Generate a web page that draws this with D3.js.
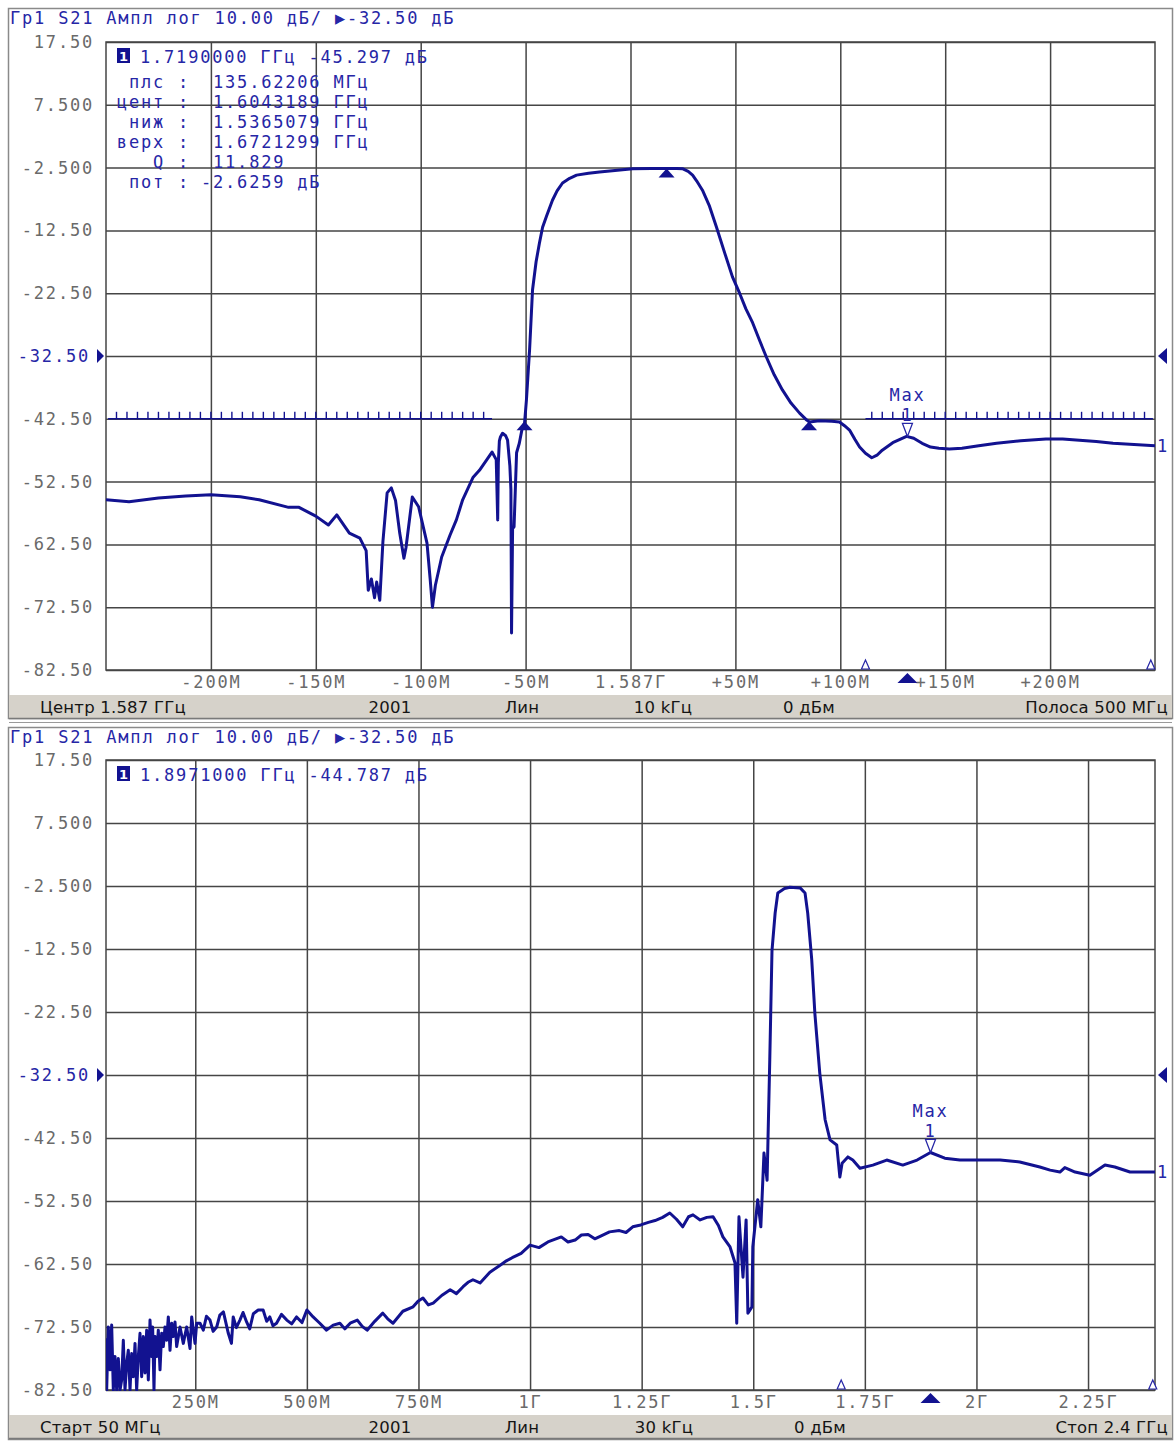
<!DOCTYPE html>
<html>
<head>
<meta charset="utf-8">
<script src="https://cdn.jsdelivr.net/npm/d3@7"></script>
<style>
body { margin: 0; background: #fff; }
svg { display: block; }
.mono { font-family: "DejaVu Sans Mono", monospace; letter-spacing: 1.8px; }
.stat { font-family: "DejaVu Sans", sans-serif; font-size: 16.5px; fill: #151515; letter-spacing: 0.2px; }
</style>
</head>
<body>
<svg width="1176" height="1441"></svg>
<script>
// ---- top trace: offset from 1.587 GHz (MHz) / S21 dB
const topOff = [-250,-239,-225,-212,-200,-186,-177,-163,-158,-150,-144,-140,-134,-129,-126,-125,-123.5,-122,-121,-119.5,-118,-116,-114,-112,-110,-108,-107,-104,-101,-97,-95.5,-94.4,-93,-90,-86,-83,-80,-75,-72,-66,-64,-63.3,-63,-62.5,-62,-61,-59.5,-58.6,-57.5,-57,-56.7,-56.2,-55.5,-54.3,-53,-51.5,-50.5,-49.6,-48.1,-46.7,-45,-43.4,-41.9,-40,-37.2,-35,-32.4,-29,-25.7,-20,-14.8,-5,1,10,17,22,25,27.5,29.6,31.5,34.3,37.5,41,45,48.6,52,55,58.2,61.5,64.8,68.5,72.4,76.5,80.6,84,85.3,90,96,99.6,102,104.4,107,109.2,112,115,117.5,120,125,131.6,135,139,143,147,152,158,166,174.5,186,198,206,214,222,230,240,250];
const topDb = [-55.4,-55.7,-55.1,-54.8,-54.6,-54.9,-55.4,-56.6,-56.6,-58.0,-59.4,-57.8,-60.7,-61.5,-63.5,-69.8,-68.0,-71.0,-68.5,-71.4,-62,-54.3,-53.5,-55.5,-60.7,-64.7,-63.0,-54.95,-56.5,-62.3,-68,-72.5,-69,-64.5,-61,-58.6,-55.4,-51.8,-50.7,-47.8,-49.0,-58.6,-49.5,-46,-45.4,-44.8,-45.2,-45.9,-50,-53.8,-76.6,-60,-59.7,-47.9,-46.4,-43.8,-43.2,-39.5,-31.5,-22.0,-17.5,-14.5,-12.0,-10.2,-7.7,-6.2,-4.95,-4.2,-3.7,-3.4,-3.2,-2.9,-2.7,-2.65,-2.63,-2.65,-2.7,-3.1,-3.7,-4.6,-6.1,-8.5,-12.0,-16.2,-19.9,-22.5,-25.0,-27.2,-30.0,-32.7,-35.5,-37.9,-40.0,-41.6,-42.7,-43.0,-42.8,-42.9,-43.0,-43.6,-44.3,-45.8,-47.0,-48.0,-48.7,-48.3,-47.5,-46.3,-45.3,-45.6,-46.4,-47.0,-47.2,-47.3,-47.2,-46.8,-46.4,-46.0,-45.7,-45.7,-45.9,-46.1,-46.4,-46.6,-46.8];

// ---- bottom trace: frequency (MHz) / S21 dB
const botFreq = [50,51.5,55.2,59,62.7,66.4,70.2,73.9,77.6,81.4,85.1,88.8,92.6,96.3,100,103.8,107.5,111.2,115,118.7,122.4,126.2,129.9,133.6,137.4,141.1,144.8,148.6,152.3,154.5,157.5,159.8,163.5,167.2,171,174.7,178.4,182.2,185.9,189.6,193.4,197.1,200.8,204.6,208.3,215.8,223.2,230.7,238.2,242,249.4,253.2,260.6,268,275,283,290,298,305,313,324,331,335,342,350,357,365,372,380,391,402,410,417,424,432,443,455,466,477,489,500,514,529,544,559,574,585,597,613,624,635,652,670,681,693,715,738,749,760,772,783,802,821,835,850,861,872,888,910,933,947,960,980,1000,1020,1040,1055,1070,1085,1101,1115,1130,1145,1157,1178,1200,1215,1230,1248,1265,1280,1297,1313,1328,1342,1355,1365,1381,1396,1410,1422,1432,1448,1459,1463,1468,1477,1484,1488,1497,1499,1510,1517,1524,1531,1533,1537,1542,1549,1555,1570,1582,1605,1616,1622,1631,1638,1649,1661,1672,1687,1694,1699,1712,1723,1739,1768,1799,1835,1867,1897,1929,1963,2053,2097,2142,2165,2187,2198,2221,2254,2288,2310,2344,2400];
const botDb = [-74.3,-82.5,-72.5,-79.3,-72.2,-82.5,-77.2,-82.5,-77.5,-82.5,-80.9,-74.6,-82.5,-78.3,-76.2,-82.5,-76.7,-80.4,-75.1,-82.5,-77.2,-73.5,-80.4,-74.0,-79.8,-73.0,-80.9,-71.4,-77.2,-72.5,-82.5,-74.0,-77.2,-73.0,-79.3,-73.5,-75.6,-72.5,-74.6,-70.9,-76.2,-71.9,-74.0,-71.7,-75.6,-72.5,-75.1,-72.5,-75.9,-70.9,-75.1,-71.9,-71.9,-73.0,-70.8,-71.4,-73.2,-72.5,-70.6,-70.1,-73.5,-75.1,-70.9,-72.6,-71.4,-70.2,-71.7,-72.8,-70.4,-69.8,-69.8,-71.6,-70.9,-72.3,-71.9,-70.5,-71.4,-72.0,-70.9,-71.8,-69.8,-70.9,-71.9,-73.0,-72.2,-71.9,-72.8,-71.9,-71.4,-72.4,-73.0,-71.6,-70.3,-71.2,-71.9,-70.0,-69.3,-68.4,-67.9,-69.0,-68.7,-67.5,-66.6,-67.2,-66.1,-65.4,-65.0,-65.5,-63.8,-62.7,-62.0,-61.5,-60.8,-59.5,-59.9,-59.0,-58.6,-58.2,-59.0,-58.7,-57.9,-57.8,-58.5,-58.1,-57.4,-57.2,-57.5,-56.6,-56.3,-55.9,-55.6,-55.1,-54.4,-55.4,-56.6,-55.0,-54.7,-55.5,-55.1,-55.0,-56.4,-58.2,-59.8,-62.3,-71.9,-55.0,-64.6,-55.5,-70.3,-69.3,-59.8,-52.3,-56.6,-44.9,-49.2,-42.8,-30.1,-12.7,-6.8,-3.6,-2.9,-2.7,-2.8,-3.6,-6.8,-14.2,-22.7,-32.2,-39.6,-42.8,-43.6,-48.7,-46.5,-45.5,-46.0,-47.3,-46.8,-46.0,-46.8,-46.0,-44.8,-45.7,-46.0,-46.0,-46.3,-47.1,-47.6,-47.9,-47.2,-47.9,-48.4,-46.8,-47.1,-47.9,-47.9];

// ---- axes
const yTicks = [17.5,7.5,-2.5,-12.5,-22.5,-32.5,-42.5,-52.5,-62.5,-72.5,-82.5];
const yLabels = ["17.50","7.500","-2.500","-12.50","-22.50","-32.50","-42.50","-52.50","-62.50","-72.50","-82.50"];
const topXTicks = [-200,-150,-100,-50,0,50,100,150,200];
const topXLabels = ["-200M","-150M","-100M","-50M","1.587Г","+50M","+100M","+150M","+200M"];
const botXTicks = [250,500,750,1000,1250,1500,1750,2000,2250];
const botXLabels = ["250M","500M","750M","1Г","1.25Г","1.5Г","1.75Г","2Г","2.25Г"];

// ---- texts
const title = "Гр1 S21 Ампл лог 10.00 дБ/ ▶-32.50 дБ";
const topMarkerHead = "1.7190000 ГГц -45.297 дБ";
const bwNames = ["плс","цент","ниж","верх","Q","пот"];
const bwValues = [" 135.62206 МГц"," 1.6043189 ГГц"," 1.5365079 ГГц"," 1.6721299 ГГц"," 11.829","-2.6259 дБ"];
const botMarkerHead = "1.8971000 ГГц -44.787 дБ";
const topStatus = ["Центр 1.587 ГГц","2001","Лин","10 kГц","0 дБм","Полоса 500 МГц"];
const botStatus = ["Старт 50 МГц","2001","Лин","30 kГц","0 дБм","Стоп 2.4 ГГц"];

// markers
const topMax = {f: 132, db: -45.297};
const topBw = [{f: -50.5, db: -42.9}, {f: 17.2, db: -2.63}, {f: 85.1, db: -42.9}];
const topRange = [112, 248];
const topLimitSegs = [[-249, -66], [112, 249]];
const botMax = {f: 1897.1, db: -44.787};
const botRange = [1697, 2395];

const svg = d3.select("svg");
const L = 106, R = 1155;
const navy = "#121290", txtBlue = "#2626a6", gridC = "#454545";

function panel(o) {
  const g = svg.append("g");
  const x = d3.scaleLinear().domain(o.xDom).range([L, R]);
  const y = d3.scaleLinear().domain([-82.5, 17.5]).range([o.bot, o.top]);

  // frame + status bar
  g.append("rect").attr("x", 8.5).attr("y", o.frameY + 0.5).attr("width", 1164).attr("height", o.frameH)
    .attr("fill", "#fff").attr("stroke", "#8a8a8a").attr("stroke-width", 1.5);
  g.append("rect").attr("x", 9).attr("y", o.bot + 25).attr("width", 1163).attr("height", 23)
    .attr("fill", "#d6d2ca");
  g.append("line").attr("x1", 9).attr("x2", 1172).attr("y1", o.bot + 48.5).attr("y2", o.bot + 48.5)
    .attr("stroke", "#7a7a7a").attr("stroke-width", 1.5);

  // grid via axes
  const gx = g.append("g").attr("transform", `translate(0,${o.bot})`)
    .call(d3.axisBottom(x).tickValues(o.xTicks).tickFormat((d, i) => o.xLabels[i])
      .tickSize(-(o.bot - o.top)).tickPadding(6));
  const gy = g.append("g").attr("transform", `translate(${L},0)`)
    .call(d3.axisLeft(y).tickValues(yTicks).tickFormat((d, i) => yLabels[i])
      .tickSize(-(R - L)).tickPadding(12));
  [gx, gy].forEach(a => {
    a.select(".domain").remove();
    a.selectAll("line").attr("stroke", gridC).attr("stroke-width", 1.5);
    a.selectAll("text").attr("class", "mono").attr("font-size", 17).attr("fill", "#6a6a6a");
  });
  gy.selectAll("text").filter(d => d === -32.5).attr("fill", txtBlue).attr("dx", -4);
  g.append("rect").attr("x", L).attr("y", o.top).attr("width", R - L).attr("height", o.bot - o.top)
    .attr("fill", "none").attr("stroke", gridC).attr("stroke-width", 1.5);

  // reference arrows at -32.50
  const yr = y(-32.5);
  g.append("path").attr("d", `M${L - 9},${yr - 7}L${L - 2},${yr}L${L - 9},${yr + 7}Z`).attr("fill", navy);
  g.append("path").attr("d", `M${R + 12},${yr - 8}L${R + 3},${yr}L${R + 12},${yr + 8}Z`).attr("fill", navy);

  // title
  g.append("text").attr("class", "mono").attr("x", 10).attr("y", o.frameY + 16).attr("font-size", 17)
    .attr("fill", txtBlue).text(title);

  // limit line with ticks
  (o.limitSegs || []).forEach(s => {
    const yl = y(-42.5);
    g.append("line").attr("x1", x(s[0])).attr("x2", x(s[1])).attr("y1", yl).attr("y2", yl)
      .attr("stroke", navy).attr("stroke-width", 1.6);
    g.selectAll(null).data(d3.range(Math.ceil(s[0] / 5) * 5, s[1] + 0.1, 5)).enter().append("line")
      .attr("x1", d => x(d)).attr("x2", d => x(d)).attr("y1", yl - 7).attr("y2", yl)
      .attr("stroke", navy).attr("stroke-width", 1.4);
  });

  // trace
  const clipId = "clip" + o.top;
  g.append("clipPath").attr("id", clipId).append("rect")
    .attr("x", L).attr("y", o.top).attr("width", R - L).attr("height", o.bot - o.top + 1);
  g.append("path").datum(o.fx.map((f, i) => [f, o.db[i]]))
    .attr("clip-path", `url(#${clipId})`)
    .attr("d", d3.line().x(d => x(d[0])).y(d => y(d[1])))
    .attr("fill", "none").attr("stroke", navy).attr("stroke-width", 3).attr("stroke-linejoin", "round");

  // trace end label
  g.append("text").attr("class", "mono").attr("x", R + 2).attr("y", y(o.db[o.db.length - 1]) + 6)
    .attr("font-size", 17).attr("fill", txtBlue).text("1");

  // marker readout
  g.append("rect").attr("x", 117).attr("y", o.top + 6).attr("width", 13).attr("height", 15).attr("fill", navy);
  g.append("text").attr("x", 123.5).attr("y", o.top + 19).attr("text-anchor", "middle")
    .attr("font-family", "DejaVu Sans").attr("font-weight", "bold").attr("font-size", 13).attr("fill", "#fff").text("1");
  g.append("text").attr("class", "mono").attr("x", 140).attr("y", o.top + 21).attr("font-size", 17)
    .attr("fill", txtBlue).text(o.head);
  (o.bwNames || []).forEach((n, i) => {
    const yy = o.top + 46 + i * 20;
    g.append("text").attr("class", "mono").attr("x", 165).attr("y", yy).attr("text-anchor", "end")
      .attr("font-size", 17).attr("fill", txtBlue).text(n);
    g.append("text").attr("class", "mono").attr("x", 178).attr("y", yy)
      .attr("font-size", 17).attr("fill", txtBlue).text(":");
    g.append("text").attr("class", "mono").attr("x", 201).attr("y", yy)
      .attr("font-size", 17).attr("fill", txtBlue).style("white-space", "pre").text(o.bwValues[i]);
  });

  // max marker
  const mx = x(o.max.f), my = y(o.max.db);
  g.append("path").attr("d", `M${mx - 5},${my - 13}L${mx + 5},${my - 13}L${mx},${my}Z`)
    .attr("fill", "#fff").attr("stroke", txtBlue).attr("stroke-width", 1.3);
  g.append("text").attr("class", "mono").attr("x", mx).attr("y", my - 15).attr("text-anchor", "middle")
    .attr("font-size", 17).attr("fill", txtBlue).text("1");
  g.append("text").attr("class", "mono").attr("x", mx).attr("y", my - 35).attr("text-anchor", "middle")
    .attr("font-size", 17).attr("fill", txtBlue).text("Max");

  // bandwidth markers
  (o.bw || []).forEach(m => {
    const bx = x(m.f), by = y(m.db);
    g.append("path").attr("d", `M${bx - 8},${by + 9}L${bx + 8},${by + 9}L${bx},${by}Z`).attr("fill", navy);
  });

  // search range + active marker on axis
  o.range.forEach(f => {
    const rx = x(f);
    g.append("path").attr("d", `M${rx - 4},${o.bot - 1}L${rx + 4},${o.bot - 1}L${rx},${o.bot - 10}Z`)
      .attr("fill", "#fff").attr("stroke", txtBlue).attr("stroke-width", 1.2);
  });
  g.append("path").attr("d", `M${mx - 10},${o.bot + 13}L${mx + 10},${o.bot + 13}L${mx},${o.bot + 3}Z`).attr("fill", navy);

  // status bar text
  const sy = o.bot + 43;
  const sx = [[40, "start"], [390, "middle"], [522, "middle"], [o.s3, "middle"], [o.s4, "middle"], [1168, "end"]];
  o.status.forEach((t, i) => {
    g.append("text").attr("class", "stat").attr("x", sx[i][0]).attr("y", sy)
      .attr("text-anchor", sx[i][1]).text(t);
  });
}

panel({
  frameY: 8, frameH: 710, top: 42, bot: 670,
  xDom: [-250, 250], xTicks: topXTicks, xLabels: topXLabels,
  fx: topOff, db: topDb, head: topMarkerHead,
  bwNames: bwNames, bwValues: bwValues, bw: topBw,
  max: topMax, range: topRange, limitSegs: topLimitSegs,
  status: topStatus, s3: 663, s4: 809
});

svg.append("line").attr("x1", 9).attr("x2", 1172).attr("y1", 722.5).attr("y2", 722.5)
  .attr("stroke", "#9a9a9a").attr("stroke-width", 1);

panel({
  frameY: 727, frameH: 712, top: 760, bot: 1390,
  xDom: [50, 2400], xTicks: botXTicks, xLabels: botXLabels,
  fx: botFreq, db: botDb, head: botMarkerHead,
  max: botMax, range: botRange,
  status: botStatus, s3: 664, s4: 820
});
</script>
</body>
</html>
